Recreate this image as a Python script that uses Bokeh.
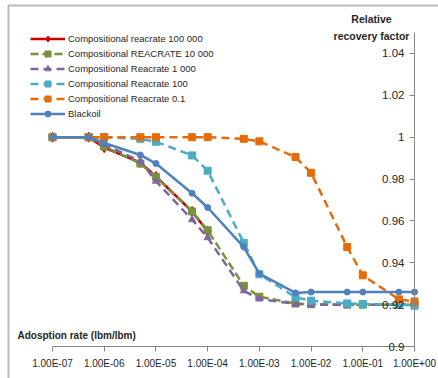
from bokeh.plotting import figure
from bokeh.models import (Legend, LegendItem, FixedTicker, Label, BoxAnnotation,
                          CustomJSTickFormatter)
from bokeh.embed import file_html
from bokeh.resources import INLINE

# Adsorption rate (lbm/lbm) at which each run was evaluated
adsorption_rate = [1e-7, 5e-7, 1e-6, 5e-6, 1e-5, 5e-5, 1e-4, 5e-4,
                   1e-3, 5e-3, 1e-2, 5e-2, 1e-1, 5e-1, 1.0]

# Relative recovery factor per run
rf_reacrate_100000 = [1.0, 1.0, 0.995, 0.9878, 0.9812, 0.9645, 0.955]
rf_reacrate_10000 = [1.0, 1.0, 0.9955, 0.9874, 0.981, 0.9645, 0.9555, 0.929,
                     0.9238, 0.9205, 0.9202, 0.92, 0.92, 0.92, 0.92]
rf_reacrate_1000 = [1.0, 1.0, 0.9965, 0.9885, 0.979, 0.9606, 0.952, 0.9266,
                    0.9227, 0.9203, 0.9199, 0.9199, 0.9199, 0.9199, 0.9199]
rf_reacrate_100 = [1.0, 1.0, 1.0, 0.9992, 0.9978, 0.9913, 0.984, 0.9495,
                   0.9345, 0.9235, 0.9219, 0.9206, 0.9203, 0.92, 0.9195]
rf_reacrate_0_1 = [1.0, 1.0, 1.0, 1.0, 1.0, 1.0, 1.0, 0.9992,
                   0.998, 0.9905, 0.983, 0.9475, 0.934, 0.9225, 0.9215]
rf_blackoil = [1.0, 1.0, 0.9972, 0.9915, 0.9874, 0.9732, 0.9664, 0.9475,
               0.9348, 0.9256, 0.926, 0.926, 0.926, 0.926, 0.926]

series_labels = ["Compositional reacrate 100 000", "Compositional REACRATE 10 000",
                 "Compositional Reacrate 1 000", "Compositional Reacrate 100",
                 "Compositional Reacrate 0.1", "Blackoil"]

x_ticks = [1e-7, 1e-6, 1e-5, 1e-4, 1e-3, 1e-2, 1e-1, 1.0]
x_tick_labels = ["1.00E-07", "1.00E-06", "1.00E-05", "1.00E-04",
                 "1.00E-03", "1.00E-02", "1.00E-01", "1.00E+00"]
y_ticks = [0.9, 0.92, 0.94, 0.96, 0.98, 1.0, 1.02, 1.04]
y_tick_labels = ["0.9", "0.92", "0.94", "0.96", "0.98", "1", "1.02", "1.04"]

FONT = "Liberation Sans"
TEXT = "#262626"
AXIS = "#868686"

W, H = 438, 378
# plot-area edges in pixels; the frame spans the whole canvas so the
# legend, titles and edge markers are never clipped
AREA_L, AREA_R, AREA_T, AREA_B = 52, 414, 32, 346
X_MIN, X_MAX = 1e-7, 1.0
Y_MIN, Y_MAX = 0.9, 1.05

px_per_decade = (AREA_R - AREA_L) / 7.0
x_start = 10 ** (-7 - AREA_L / px_per_decade)
x_end = 10 ** ((W - AREA_R) / px_per_decade)
px_per_unit = (AREA_B - AREA_T) / (Y_MAX - Y_MIN)
y_start = Y_MIN - (H - AREA_B) / px_per_unit
y_end = Y_MAX + AREA_T / px_per_unit

p = figure(width=W, height=H, x_axis_type="log",
           x_range=(x_start, x_end), y_range=(y_start, y_end),
           toolbar_location=None, output_backend="svg",
           min_border_left=0, min_border_right=0, min_border_top=0,
           min_border_bottom=0)
p.outline_line_color = None
p.grid.visible = False
p.background_fill_color = "white"
p.border_fill_color = "white"

# category (log) axis, pinned at the bottom of the value range
xa = p.xaxis[0]
xa.fixed_location = Y_MIN
xa.bounds = (X_MIN, X_MAX)
xa.ticker = FixedTicker(ticks=x_ticks)
xa.formatter = CustomJSTickFormatter(
    args=dict(tick_values=x_ticks, tick_labels=x_tick_labels),
    code="""
    const lt = Math.log10(tick);
    for (let i = 0; i < tick_values.length; i++) {
        if (Math.abs(Math.log10(tick_values[i]) - lt) < 1e-6) return tick_labels[i];
    }
    return "";
    """)
xa.major_tick_out = 5
xa.major_tick_in = 0
xa.minor_tick_out = 0
xa.minor_tick_in = 0
xa.axis_line_color = AXIS
xa.major_tick_line_color = AXIS
xa.major_label_standoff = 6
xa.major_label_text_font = FONT
xa.major_label_text_font_size = "10px"
xa.major_label_text_color = TEXT

# value axis, pinned at the right end; ticks and labels face inwards
ya = p.yaxis[0]
ya.fixed_location = X_MAX
ya.bounds = (Y_MIN, Y_MAX)
ya.ticker = FixedTicker(ticks=y_ticks)
ya.major_label_overrides = {v: s for v, s in zip(y_ticks, y_tick_labels)}
ya.major_tick_out = 5
ya.major_tick_in = 0
ya.minor_tick_in = 0
ya.minor_tick_out = 0
ya.axis_line_color = AXIS
ya.major_tick_line_color = AXIS
ya.major_label_standoff = 5
ya.major_label_text_font = FONT
ya.major_label_text_font_size = "11.5px"
ya.major_label_text_color = TEXT

# curves
styles = [
    dict(color="#CC0000", dash="solid", marker="diamond", size=10),
    dict(color="#77933C", dash="8 4", marker="square", size=7),
    dict(color="#8064A2", dash="8 5", marker="triangle", size=7),
    dict(color="#4BACC6", dash="8 5", marker="square", size=7),
    dict(color="#E46C0A", dash="8 5", marker="square", size=7),
    dict(color="#4F81BD", dash="solid", marker="circle", size=6),
]
series_values = [rf_reacrate_100000, rf_reacrate_10000, rf_reacrate_1000,
                 rf_reacrate_100, rf_reacrate_0_1, rf_blackoil]

items = []
for label, vals, st in zip(series_labels, series_values, styles):
    xs = adsorption_rate[:len(vals)]
    rl = p.line(xs, vals, line_color=st["color"], line_width=2.5,
                line_dash=st["dash"])
    rm = p.scatter(xs, vals, marker=st["marker"], size=st["size"],
                   fill_color=st["color"], line_color=st["color"])
    items.append(LegendItem(label=label, renderers=[rl, rm]))

legend = Legend(items=items, location=(30, 257), padding=0, margin=0,
                spacing=0, glyph_width=35, glyph_height=15, label_height=15,
                label_standoff=3, label_text_font=FONT,
                label_text_font_size="9.5px", label_text_color=TEXT,
                border_line_color=None, background_fill_alpha=0)
p.add_layout(legend, "center")

# axis titles
p.add_layout(Label(x=17, y=335, x_units="canvas", y_units="canvas",
                   text="Adosption  rate (lbm/lbm)", text_baseline="middle",
                   text_font=FONT, text_font_size="10px", text_font_style="bold",
                   text_color=TEXT))
p.add_layout(Label(x=371, y=18, x_units="canvas", y_units="canvas",
                   text="Relative", text_align="center", text_baseline="middle",
                   text_font=FONT, text_font_size="10.5px", text_font_style="bold",
                   text_color=TEXT))
p.add_layout(Label(x=371, y=35, x_units="canvas", y_units="canvas",
                   text="recovery factor", text_align="center",
                   text_baseline="middle", text_font=FONT,
                   text_font_size="10.5px", text_font_style="bold",
                   text_color=TEXT))

# chart border
p.add_layout(BoxAnnotation(left=8, right=700, top=5, bottom=700,
                           left_units="canvas", right_units="canvas",
                           top_units="canvas", bottom_units="canvas",
                           fill_alpha=0, line_color="#1a1a1a", line_width=2))

open("out.html", "w").write(file_html(p, INLINE))
